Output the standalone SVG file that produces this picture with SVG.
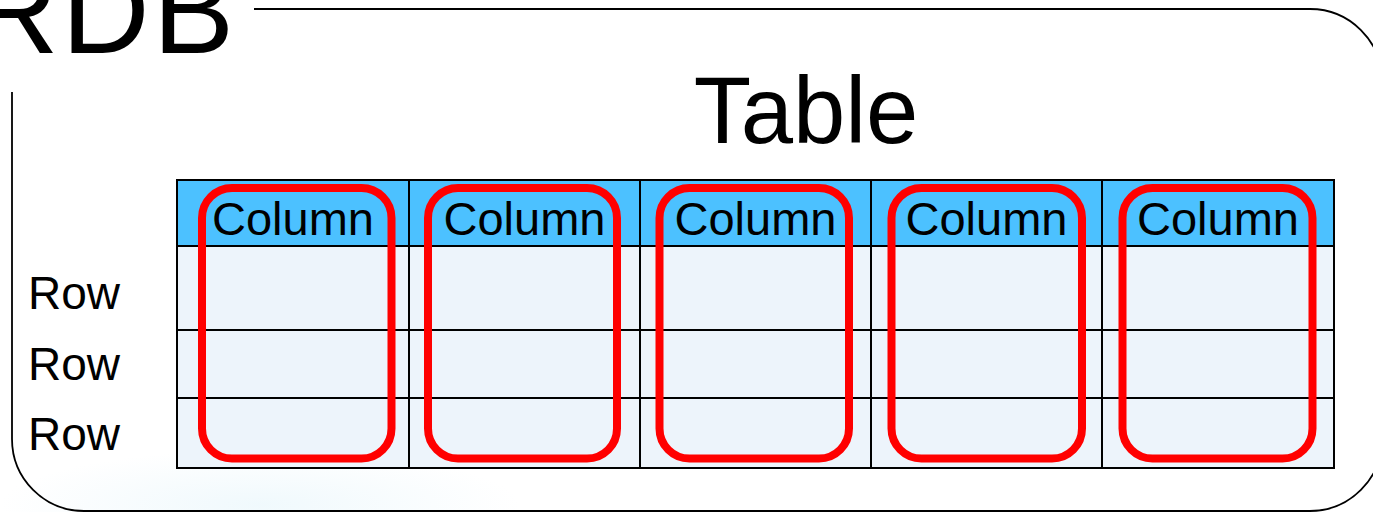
<svg xmlns="http://www.w3.org/2000/svg" width="1373" height="512" viewBox="0 0 1373 512">
  <style>
    .lbl { font-family: "Liberation Sans", Arial, sans-serif; fill: #000; }
    .col-text { font-size: 47px; text-anchor: middle; }
    .row-text { font-size: 46px; }
    .grid { stroke: #000; stroke-width: 2; fill: none; }
    .colmark { fill: none; stroke: #ff0000; stroke-width: 8; }
  </style>
  <defs>
    <radialGradient id="haze" cx="0.5" cy="0.5" r="0.5">
      <stop offset="0" stop-color="#e6f5fb" stop-opacity="0.6"/>
      <stop offset="1" stop-color="#e6f5fb" stop-opacity="0"/>
    </radialGradient>
  </defs>

  <rect x="0" y="0" width="1373" height="512" fill="#ffffff"/>
  <ellipse cx="260" cy="505" rx="260" ry="55" fill="url(#haze)"/>

  <!-- RDB container frame, open at the top-left where its title sits -->
  <g id="rdb">
    <path d="M12 92 V439 A72 72 0 0 0 84 511 H1310 A72 72 0 0 0 1382 439 V81 A72 72 0 0 0 1310 9 H254"
          fill="none" stroke="#000" stroke-width="1.8"/>
    <text class="lbl" x="-29.5" y="53" font-size="122" letter-spacing="3">RDB</text>
  </g>

  <!-- Table -->
  <g id="table">
    <text class="lbl" x="806" y="143" font-size="94" text-anchor="middle">Table</text>
    <rect x="177" y="180" width="1157" height="66" fill="#4cc1ff"/>
    <rect x="177" y="246" width="1157" height="222" fill="#edf4fb"/>
    <g class="grid">
      <rect x="177" y="180" width="1157" height="288"/>
      <line x1="177" y1="246" x2="1334" y2="246"/>
      <line x1="177" y1="330" x2="1334" y2="330"/>
      <line x1="177" y1="398" x2="1334" y2="398"/>
      <line x1="409" y1="180" x2="409" y2="468"/>
      <line x1="640" y1="180" x2="640" y2="468"/>
      <line x1="871" y1="180" x2="871" y2="468"/>
      <line x1="1102" y1="180" x2="1102" y2="468"/>
    </g>
    <g class="lbl col-text">
      <text x="293" y="235">Column</text>
      <text x="524.5" y="235">Column</text>
      <text x="755.5" y="235">Column</text>
      <text x="986.5" y="235">Column</text>
      <text x="1218" y="235">Column</text>
    </g>
  </g>

  <!-- Row labels -->
  <g id="rows" class="lbl row-text">
    <text x="28" y="309">Row</text>
    <text x="28" y="380">Row</text>
    <text x="28" y="450">Row</text>
  </g>

  <!-- Column highlights -->
  <g id="column-marks" class="colmark">
    <rect x="202" y="188" width="189.5" height="270.5" rx="30"/>
    <rect x="428" y="188" width="189" height="270.5" rx="30"/>
    <rect x="659.5" y="188" width="189.5" height="270.5" rx="30"/>
    <rect x="891.5" y="188" width="190.5" height="270.5" rx="30"/>
    <rect x="1122.5" y="188" width="190" height="270.5" rx="30"/>
  </g>
</svg>
